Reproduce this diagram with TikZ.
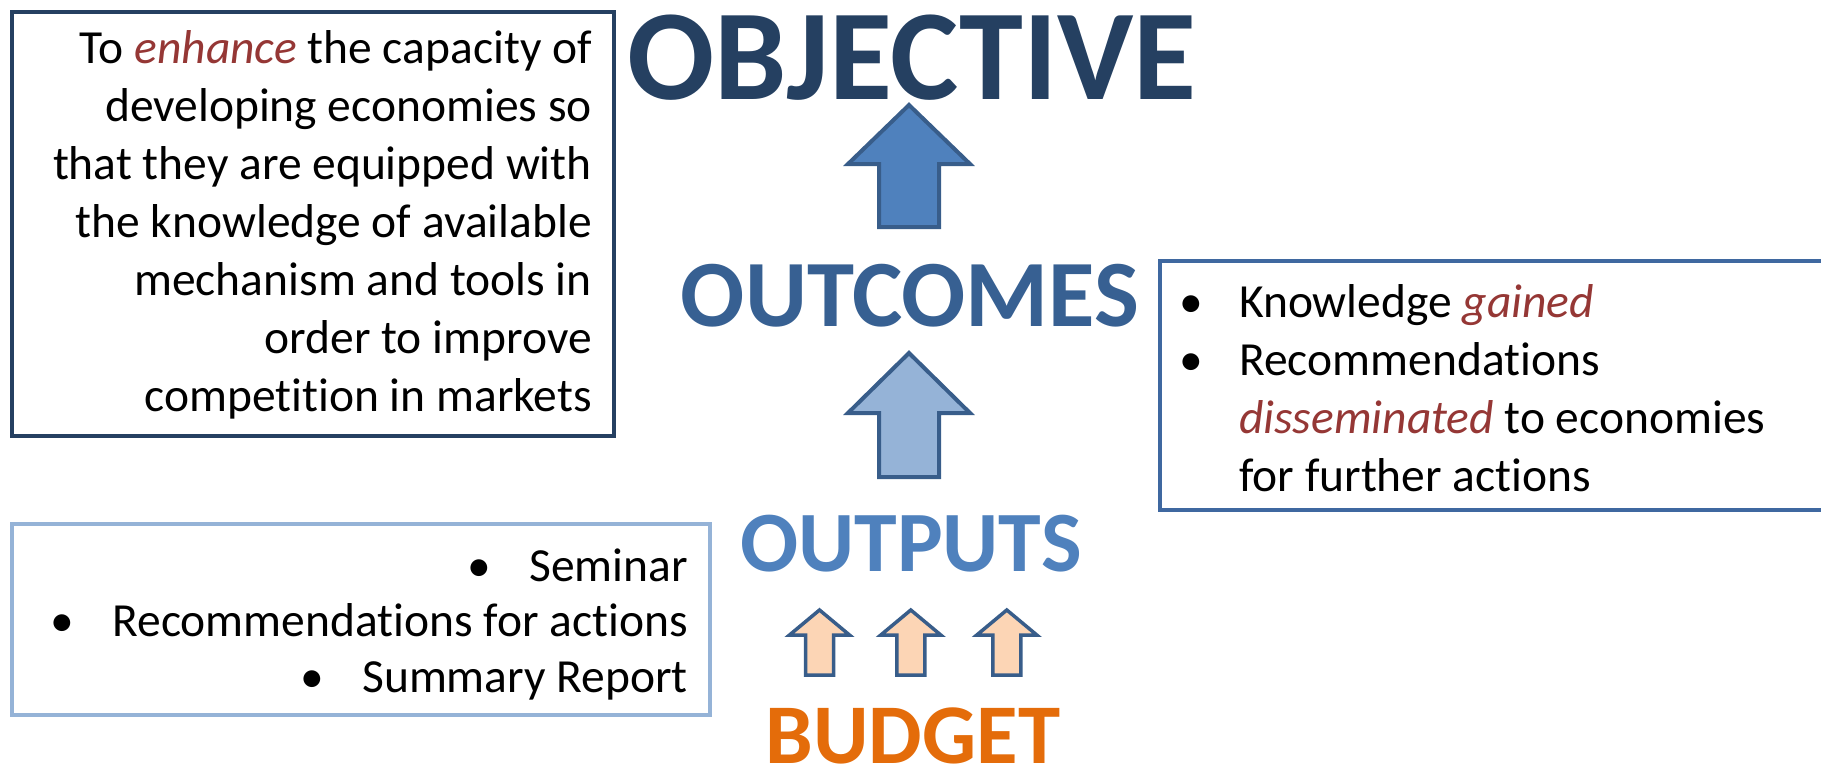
\documentclass[tikz,border=0pt]{standalone}
\usepackage{fontspec}
\setmainfont{Carlito}[Ligatures=NoCommon]
\usetikzlibrary{positioning}
\definecolor{navy}{HTML}{254061}
\definecolor{steel}{HTML}{385D8A}
\definecolor{midblue}{HTML}{376092}
\definecolor{accent}{HTML}{4F81BD}
\definecolor{pale}{HTML}{95B3D7}
\definecolor{peach}{HTML}{FCD5B5}
\definecolor{budget}{HTML}{E46C0A}
\definecolor{wine}{HTML}{953735}
\definecolor{framebl}{HTML}{3F68A0}
\newcommand{\emw}[1]{\textcolor{wine}{\itshape #1}}
\newcommand{\bul}{\makebox[62pt][l]{•}}
% block arrow: x, tip, head base, bottom, head half width, shaft half width
\newcommand{\blockarrow}[7][]{%
  \draw[arrowline, #1] (#2,#3) -- (#2+#6,#4) -- (#2+#7,#4) -- (#2+#7,#5)
     -- (#2-#7,#5) -- (#2-#7,#4) -- (#2-#6,#4) -- cycle;}
\tikzset{%
   heading/.style={
      font=\bfseries\fontsize{#1}{#1}\selectfont,
      anchor=base,
      text depth=0pt,
      inner sep=0pt
   },
   body/.style={
      font=\fontsize{47.5}{58}\selectfont,
      inner sep=0pt
   },
   arrowline/.style={
      draw=steel,
      line width=4pt
   },
   textbox/.style={
      line width=3.5pt
   },
}
\begin{document}
\begin{tikzpicture}[x=1pt, y=-1pt]
   \useasboundingbox (0,0) rectangle (1821,772);
   % frames
   \draw[textbox, navy] (12,12) rectangle (614,436);
   \draw[textbox, framebl] (1160,261) rectangle (1836,510);
   \draw[textbox, pale] (12,524) rectangle (710,715);
   % objective text
   \foreach \ln [count=\i] in {To \emw{enhance} the capacity of, developing economies so,
      that they are equipped with, the knowledge of available,
      mechanism and tools in, order to improve, competition in markets}
      \node[body, anchor=base east] (obj\i) at (592,{63+58*(\i-1)}) {\ln};
   % outcome text
   \foreach \ln [count=\i] in {Knowledge \emw{gained}, Recommendations,
      \emw{disseminated} to economies, for further actions}
      \node[body, anchor=base west] (out\i) at (1239,{317+58*(\i-1)}) {\ln};
   \node[body, anchor=base west] (b1) at (1179,317) {•};
   \node[body, anchor=base west] (b2) at (1179,375) {•};
   % output text
   \node[body, anchor=base east] (op1) at (688,581) {\bul Seminar};
   \node[body, anchor=base east] (op2) at (688,636) {\bul Recommendations for actions};
   \node[body, anchor=base east] (op3) at (688,692) {\bul Summary Report};
   % headings
   \node[heading=129, text=navy] (objective) at (912,99) {OBJECTIVE};
   \node[heading=95, text=midblue] (outcomes) at (910,326) {OUTCOMES};
   \node[heading=86, text=accent] (outputs) at (911,571) {OUTPUTS};
   \node[heading=85, text=budget] (budget) at (913,763) {BUDGET};
   % arrows
   \blockarrow[fill=accent]{909}{105}{164}{227}{61}{30}
   \blockarrow[fill=pale]{909}{353}{413}{477}{61}{30}
   \foreach \x in {819.5,910.8,1006.8}{
      \blockarrow[fill=peach, line width=3.5pt]{\x}{610}{635}{675}{30}{14}
   }
\end{tikzpicture}
\end{document}
